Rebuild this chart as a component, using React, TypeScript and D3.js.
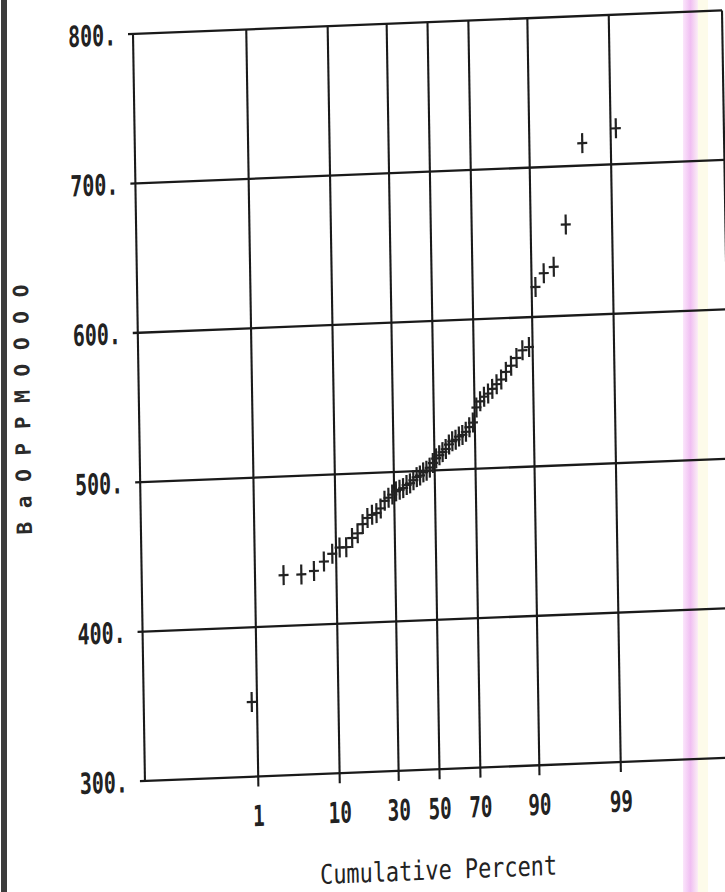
import React from 'react';
import * as d3 from 'd3';

// sorted sample values (n = 60)
const values = [
  350, 434, 434, 436, 442, 447, 451, 451, 457, 460,
  466, 470, 472, 473, 476, 481, 483, 485, 487, 488,
  489, 491, 492, 494, 496, 497, 499, 500, 502, 505,
  508, 510, 512, 514, 517, 519, 520, 522, 523, 525,
  528, 531, 541, 545, 548, 550, 553, 556, 559, 564,
  568, 573, 578, 580, 620, 629, 633, 661, 715, 724,
];
const percentTicks = [1, 10, 30, 50, 70, 90, 99];
const valueTicks = [300, 400, 500, 600, 700, 800];
const xTitle = 'Cumulative Percent';
const yTitle = 'BaOPPMOOOO';

// inverse normal CDF (Acklam)
function probit(p: number): number {
  const a = [-3.969683028665376e1, 2.209460984245205e2, -2.759285104469687e2, 1.38357751867269e2, -3.066479806614716e1, 2.506628277459239];
  const b = [-5.447609879822406e1, 1.615858368580409e2, -1.556989798598866e2, 6.680131188771972e1, -1.328068155288572e1];
  const c = [-7.784894002430293e-3, -3.223964580411365e-1, -2.400758277161838, -2.549732539343734, 4.374664141464968, 2.938163982698783];
  const d = [7.784695709041462e-3, 3.224671290700398e-1, 2.445134137142996, 3.754408661907416];
  const plow = 0.02425;
  if (p < plow) {
    const q = Math.sqrt(-2 * Math.log(p));
    return (((((c[0] * q + c[1]) * q + c[2]) * q + c[3]) * q + c[4]) * q + c[5]) / ((((d[0] * q + d[1]) * q + d[2]) * q + d[3]) * q + 1);
  }
  if (p <= 1 - plow) {
    const q = p - 0.5;
    const r = q * q;
    return ((((((a[0] * r + a[1]) * r + a[2]) * r + a[3]) * r + a[4]) * r + a[5]) * q) / (((((b[0] * r + b[1]) * r + b[2]) * r + b[3]) * r + b[4]) * r + 1);
  }
  const q = Math.sqrt(-2 * Math.log(1 - p));
  return -(((((c[0] * q + c[1]) * q + c[2]) * q + c[3]) * q + c[4]) * q + c[5]) / ((((d[0] * q + d[1]) * q + d[2]) * q + d[3]) * q + 1);
}

export default function App() {
  const W = 725, H = 892;
  const left = 133, right = 722, top = 34, bottom = 781;
  const x = d3.scaleLinear().domain([-3.78, 3.78]).range([left, right]);
  const y = d3.scaleLinear().domain([300, 800]).range([bottom, top]);
  const n = values.length;
  const pts = values.map((v, i) => ({ z: probit((i + 0.5) / n), v }));

  const ink = '#1a1a1a';
  const monoFont = '"DejaVu Sans Mono", "Liberation Mono", monospace';
  // the scanned page is slightly skewed
  const skew = `matrix(1,-0.04,0.016,1,${-0.016 * top},${0.04 * left})`;

  return (
    <div style={{ position: 'absolute', left: 0, top: 0, width: W, height: H, overflow: 'hidden', background: '#fff' }}>
      <svg width={W} height={H} viewBox={`0 0 ${W} ${H}`}>
        <defs>
          <linearGradient id="pink" x1="0" x2="1" y1="0" y2="0">
            <stop offset="0" stopColor="#fbe6fb" />
            <stop offset="0.5" stopColor="#f0bff2" />
            <stop offset="1" stopColor="#fbeef5" />
          </linearGradient>
        </defs>
        <rect width={W} height={H} fill="#fff" />
        <rect x={683} y={0} width={15} height={H} fill="url(#pink)" />
        <rect x={698} y={0} width={10} height={H} fill="#fdfbea" />
        <rect x={1} y={0} width={6} height={H} fill="#3c3c3c" />

        <g transform={skew}>
          {/* horizontal grid lines with ticks to the left */}
          {valueTicks.map(t => (
            <line key={`h${t}`} x1={left - 5} x2={right} y1={y(t)} y2={y(t)} stroke={ink} strokeWidth={2.3} />
          ))}
          {/* vertical grid lines with ticks below */}
          {percentTicks.map(t => (
            <line key={`v${t}`} x1={x(probit(t / 100))} x2={x(probit(t / 100))} y1={top} y2={bottom + 10} stroke={ink} strokeWidth={2.1} />
          ))}
          <line x1={left} x2={left} y1={top} y2={bottom} stroke={ink} strokeWidth={2.1} />
          <line x1={right} x2={right} y1={top} y2={bottom} stroke={ink} strokeWidth={2.1} />

          {/* value labels */}
          {valueTicks.map(t => (
            <text key={`yl${t}`} x={116} y={y(t) + 10.5} textAnchor="end" fontFamily={monoFont} fontWeight="bold"
              fontSize={29} textLength={48} lengthAdjust="spacingAndGlyphs" fill="#222">{`${t}.`}</text>
          ))}
          {/* percent labels */}
          {percentTicks.map(t => {
            const s = String(t);
            return (
              <text key={`xl${t}`} x={x(probit(t / 100))} y={830.5} textAnchor="middle" fontFamily={monoFont} fontWeight="bold"
                fontSize={29} textLength={11.6 * s.length} lengthAdjust="spacingAndGlyphs" fill="#222">{s}</text>
            );
          })}

          {/* plus markers */}
          {pts.map((p, i) => {
            const cx = x(p.z), cy = y(p.v);
            return (
              <g key={`p${i}`} stroke="#222" strokeWidth={2.2}>
                <line x1={cx - 5} x2={cx + 5} y1={cy} y2={cy} />
                <line x1={cx} x2={cx} y1={cy - 10} y2={cy + 10} />
              </g>
            );
          })}

          <text x={425} y={891} textAnchor="middle" fontFamily={monoFont} fontSize={27}
            textLength={237} lengthAdjust="spacingAndGlyphs" fill="#222">{xTitle}</text>
          <text transform={`translate(24,405) rotate(-90)`} textAnchor="middle" fontFamily={monoFont}
            fontWeight="bold" fontSize={21} textLength={250} fill="#2a2a2a">{yTitle}</text>
        </g>
      </svg>
    </div>
  );
}
